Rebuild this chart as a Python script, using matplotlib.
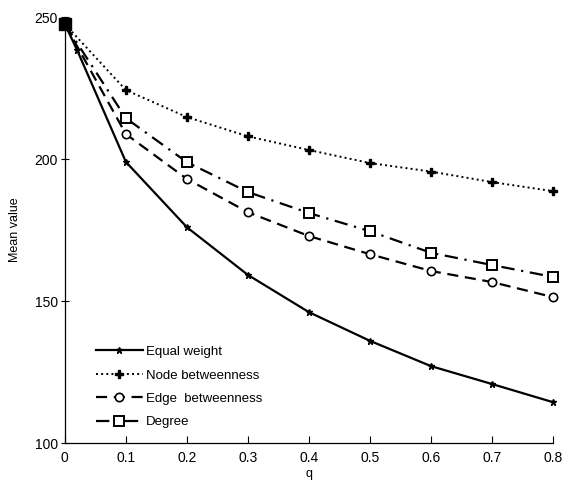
import matplotlib
matplotlib.use("Agg")
import matplotlib.pyplot as plt

q = [0, 0.1, 0.2, 0.3, 0.4, 0.5, 0.6, 0.7, 0.8]
q_equal = [0, 0.02, 0.1, 0.2, 0.3, 0.4, 0.5, 0.6, 0.7, 0.8]
equal_weight = [247.5, 238.4, 199.0, 176.0, 159.2, 146.1, 136.0, 127.1, 120.8, 114.4]
node_betweenness = [247.5, 224.3, 214.8, 208.0, 203.2, 198.6, 195.6, 191.9, 188.7]
edge_betweenness = [247.5, 208.8, 193.0, 181.3, 172.9, 166.5, 160.6, 156.7, 151.4]
degree = [247.5, 214.4, 198.9, 188.4, 181.0, 174.6, 167.0, 162.7, 158.5]
labels = ["Equal weight", "Node betweenness", "Edge  betweenness", "Degree"]
xticks = [0, 0.1, 0.2, 0.3, 0.4, 0.5, 0.6, 0.7, 0.8]
yticks = [100, 150, 200, 250]

plt.rcParams['font.family'] = ['Liberation Sans', 'DejaVu Sans']
fig = plt.figure(figsize=(5.69, 4.88), dpi=100)
ax = fig.add_axes([0.114, 0.092, 0.858, 0.873])

ax.plot(q_equal, equal_weight, '-', color='black', lw=1.6, marker='*', ms=5,
        label=labels[0], clip_on=False, zorder=4)
ax.plot(q, node_betweenness, ':', color='black', lw=1.4, marker='P', ms=5.5,
        label=labels[1], clip_on=False, zorder=3)
ax.plot(q, edge_betweenness, '--', color='black', lw=1.6, marker='o', ms=6,
        mfc='white', mew=1.2, dashes=(5, 3), label=labels[2], clip_on=False, zorder=3)
ax.plot(q, degree, '-.', color='black', lw=1.6, marker='s', ms=7,
        mfc='white', mew=1.4, dashes=(6, 3, 1, 3), label=labels[3], clip_on=False, zorder=2)
ax.plot([0], [247.5], 's', color='black', ms=9, clip_on=False, zorder=5)

ax.set_xlim(0, 0.8)
ax.set_ylim(100, 250)
ax.set_xticks(xticks)
ax.set_xticklabels(["0", "0.1", "0.2", "0.3", "0.4", "0.5", "0.6", "0.7", "0.8"])
ax.set_yticks(yticks)
for s in ['top', 'right']:
    ax.spines[s].set_visible(False)
for s in ['left', 'bottom']:
    ax.spines[s].set_linewidth(0.9)
ax.tick_params(axis='x', direction='in', length=5, labelsize=10, pad=6)
ax.tick_params(axis='y', direction='inout', length=6, labelsize=10, pad=2)
ax.set_xlabel("q", fontsize=9, labelpad=2)
ax.set_ylabel("Mean value", fontsize=9, labelpad=10)

ax.legend(loc='lower left', bbox_to_anchor=(0.052, 0.022), frameon=False, fontsize=9.5,
          handlelength=3.6, handletextpad=0.2, labelspacing=0.85, borderaxespad=0)

fig.savefig("out.png", dpi=100)
